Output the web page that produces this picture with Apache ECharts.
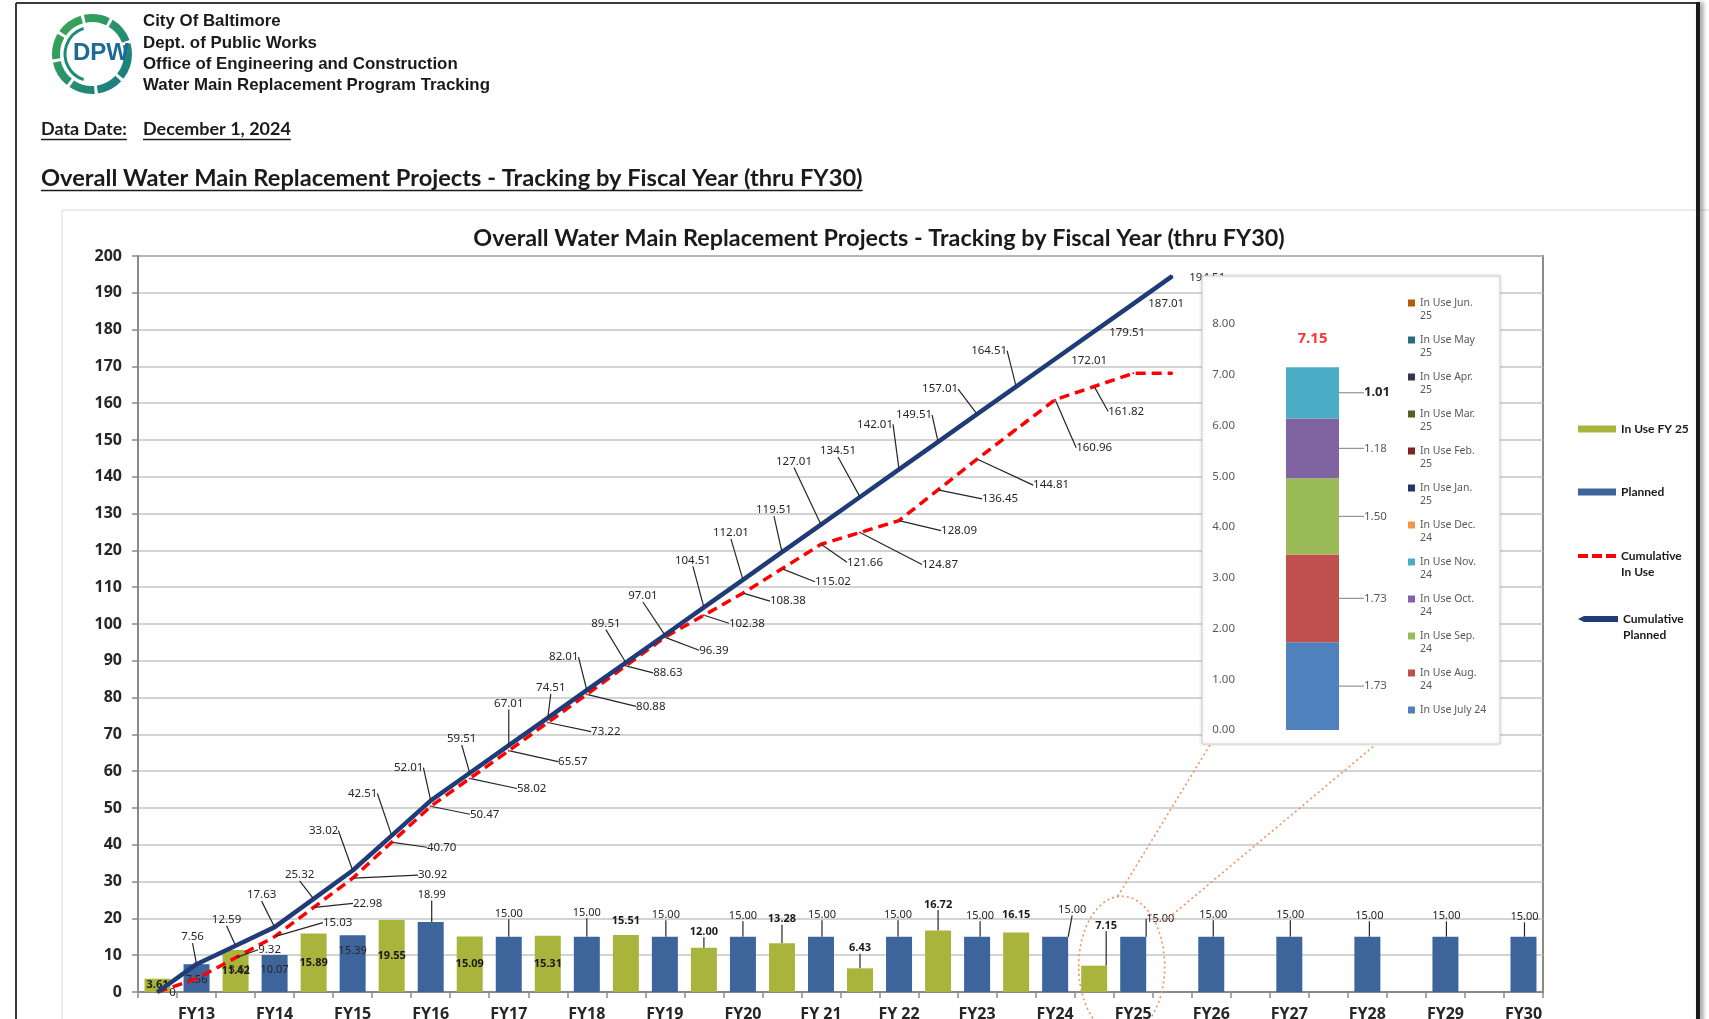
<!DOCTYPE html>
<html><head><meta charset="utf-8">
<script src="https://cdn.jsdelivr.net/npm/echarts@6/dist/echarts.min.js"></script>
<style>html,body{margin:0;padding:0;background:#fff;overflow:hidden}#main{width:1709px;height:1019px;}</style>
</head><body><div id="main"></div>
<script>
// ================= DATA =================
const fiscalYears = ['FY13','FY14','FY15','FY16','FY17','FY18','FY19','FY20','FY 21','FY 22','FY23','FY24','FY25','FY26','FY27','FY28','FY29','FY30'];
// "In Use FY" bars (FY13..FY25)
const inUse = [3.61, 11.42, 15.89, 19.55, 15.09, 15.31, 15.51, 12.00, 13.28, 6.43, 16.72, 16.15, 7.15];
// "Planned" bars (FY13..FY30)
const planned = [7.56, 10.07, 15.39, 18.99, 15.00, 15.00, 15.00, 15.00, 15.00, 15.00, 15.00, 15.00, 15.00, 15.00, 15.00, 15.00, 15.00, 15.00];
// cumulative lines, one point per bar slot (two slots per FY)
const cumPlanned = [0, 7.56, 12.59, 17.63, 25.32, 33.02, 42.51, 52.01, 59.51, 67.01, 74.51, 82.01, 89.51, 97.01, 104.51, 112.01, 119.51, 127.01, 134.51, 142.01, 149.51, 157.01, 164.51, 172.01, 179.51, 187.01, 194.51];
const cumInUse = [0, 3.61, 9.32, 15.03, 22.98, 30.92, 40.70, 50.47, 58.02, 65.57, 73.22, 80.88, 88.63, 96.39, 102.38, 108.38, 115.02, 121.66, 124.87, 128.09, 136.45, 144.81, 152.89, 160.96, 164.54, 168.11, 168.11];
const cumInUseLabels = ['0','3.61','9.32','15.03','22.98','30.92','40.70','50.47','58.02','65.57','73.22','80.88','88.63','96.39','102.38','108.38','115.02','121.66','124.87','128.09','136.45','144.81','','160.96','161.82','',''];
// FY25 monthly breakdown (inset)
const insetMonths = ['In Use July 24','In Use Aug. 24','In Use Sep. 24','In Use Oct. 24','In Use Nov. 24','In Use Dec. 24','In Use Jan. 25','In Use Feb. 25','In Use Mar. 25','In Use Apr. 25','In Use May 25','In Use Jun. 25'];
const insetValues = [1.73, 1.73, 1.50, 1.18, 1.01, null, null, null, null, null, null, null];

// ================= STYLE =================
const GREEN = '#A9B43C', BLUE = '#3E659B', NAVY = '#1F3C78', RED = '#FF0000';
const insetColors = ['#4F81BD','#C0504D','#9BBB59','#8064A2','#4BACC6','#F79646','#1F3864','#7B2421','#4F6228','#3F3151','#256D7B','#B35A0C'];
// label offsets: [dx, dy from bar top (or null = centered inside), leader line]
const inUseBarLbl = [null,null,null,null,null,null,[0,-14,0],[0,-16,1],[0,-24,1],[0,-20,1],[0,-26,1],[0,-18,0],[12,-40,1]];
const plannedBarLbl = [[0,16,0],[0,15,0],[0,15,0],[1,-27,1],[0,-23,1],[0,-24,1],[1,-22,1],[0,-21,1],[1,-22,1],[-1,-22,1],[3,-21,1],[17,-27,1],[27,-18,1],[2,-22,1],[1,-22,1],[2,-21,1],[1,-21,1],[1,-20,1]];
// line label offsets relative to point: [dx, dy, leader]
const plannedLineLbl = [null,[-4,-27,1],[-9,-26,1],[-13,-32,1],[-14,-24,1],[-29,-40,1],[-29,-42,1],[-22,-33,1],[-8,-34,1],[0,-42,1],[3,-30,1],[-23,-33,1],[-20,-39,1],[-22,-39,1],[-11,-47,1],[-12,-47,1],[-8,-42,1],[-27,-63,1],[-22,-46,1],[-24,-45,1],[-24,-27,1],[-37,-25,1],[-27,-36,1],[34,2,0],[33,1,0],[33,0,0],[35,2,0]];
const inUseLineLbl = [[15,1,0],[43,-9,0],[34,-8,1],[63,-14,1],[54,-4,1],[80,-3,1],[50,5,1],[54,8,1],[62,10,1],[64,11,1],[58,9,1],[64,12,1],[42,7,1],[49,13,1],[43,8,1],[45,8,1],[51,13,1],[44,18,1],[80,32,1],[60,10,1],[62,9,1],[74,26,1],null,[39,48,1],[32,25,1],null,null];

// ================= BUILD =================
const slots = [];
fiscalYears.forEach(fy => { slots.push(''); slots.push(fy); });

const inUseBarData = slots.map((s, i) => {
  if (i % 2 === 1) return '-';
  const k = i / 2;
  if (k >= inUse.length) return '-';
  const o = inUseBarLbl[k];
  return { value: inUse[k], labelLine: { show: !!(o && o[2]) } };
});
const plannedBarData = slots.map((s, i) => {
  if (i % 2 === 0) return '-';
  const k = (i - 1) / 2;
  const o = plannedBarLbl[k];
  return { value: planned[k], labelLine: { show: !!(o && o[2]) } };
});
const plannedLineData = cumPlanned.map((v, i) => ({
  value: v, label: { show: !!plannedLineLbl[i] }, labelLine: { show: !!(plannedLineLbl[i] && plannedLineLbl[i][2]) }
}));
const inUseLineData = cumInUse.map((v, i) => ({
  value: v, label: { show: cumInUseLabels[i] !== '' }, labelLine: { show: !!(inUseLineLbl[i] && inUseLineLbl[i][2]) }
}));
const insetTotal = insetValues.reduce((a, b) => a + (b || 0), 0);

function barLayout(offs) {
  return function (p) {
    const k = Math.floor(p.dataIndex / 2);
    const o = offs[k];
    if (!o) return {};
    return { dx: o[0], dy: o[1] - p.rect.height / 2 };
  };
}
function lineLayout(offs) {
  return function (p) {
    const o = offs[p.dataIndex];
    if (!o) return {};
    return { dx: o[0], dy: o[1] };
  };
}

const leaderStyle = { color: '#262626', width: 1.2 };
const TOPZ = 100;

const legends = [];
[
  ['In Use FY 25', 429, 1, 'rect', 38, 7],
  ['Planned', 492, 1, 'rect', 38, 7],
  ['Cumulative In Use', 556, 2, 'path://M0,0H10V4H0Z M14,0H24V4H14Z M28,0H38V4H28Z', 38, 4],
  ['Cumulative Planned', 619, 2, 'path://M0,3L6,0H40V6H6Z', 40, 6]
].forEach(([name, cy, lines, icon, iw, ih]) => {
  const lh = 16;
  legends.push({
    data: [{ name, icon }], orient: 'vertical', left: 1578, top: lines === 1 ? cy - lh / 2 : cy - 1.5 * lh,
    padding: 0, itemWidth: iw, itemHeight: ih, itemGap: 0, selectedMode: false, z: TOPZ + 1,
    formatter: n => n.indexOf('Cumulative ') === 0 ? '\n' + n.replace('Cumulative ', 'Cumulative\n') : n,
    textStyle: { fontFamily: 'Lato', fontWeight: 'bold', fontSize: 12, color: '#1a1a1a', lineHeight: lh }
  });
});
insetMonths.slice().reverse().forEach((name, r) => {
  const cy = 303 + 37 * r;
  const two = name !== 'In Use July 24';
  const lh = 13;
  legends.push({
    data: [name], orient: 'vertical', left: 1408, top: two ? cy - 1.5 * lh : cy - lh / 2,
    padding: 0, itemWidth: 7, itemHeight: 7, icon: 'rect', selectedMode: false, z: TOPZ + 1,
    formatter: n => two ? '\n' + n.replace(/ (\d\d)$/, '\n$1') : n,
    textStyle: { fontFamily: 'Noto Sans', fontSize: 10.5, color: '#595959', lineHeight: lh }
  });
});

const insetSeries = insetMonths.map((name, i) => ({
  name, type: 'bar', xAxisIndex: 1, yAxisIndex: 1, stack: 'fy25', barWidth: 53, z: TOPZ + 1,
  data: [insetValues[i]], itemStyle: { color: insetColors[i] },
  label: {
    show: insetValues[i] != null, position: 'right', distance: 3,
    formatter: p => Number(p.value).toFixed(2), fontFamily: 'Noto Sans',
    fontSize: i === 4 ? 13 : 11.5, fontWeight: i === 4 ? 'bold' : 'normal', color: i === 4 ? '#262626' : '#595959'
  },
  labelLine: { show: true, lineStyle: { color: '#7f7f7f', width: 1 } },
  labelLayout: { dx: 22 }
}));

const chart = echarts.init(document.getElementById('main'), null, { renderer: 'canvas' });
const option = {
  animation: false,
  backgroundColor: '#fff',
  textStyle: { fontFamily: 'Noto Sans' },
  legend: legends,
  grid: [
    { left: 138, right: 166, top: 256, bottom: 27, show: true, borderColor: '#8a8a8a', borderWidth: 2, outerBoundsMode: 'none', containLabel: false },
    { left: 1245, right: 329, top: 324, bottom: 289, outerBoundsMode: 'none', containLabel: false, z: TOPZ + 1 }
  ],
  xAxis: [
    { type: 'category', gridIndex: 0, data: slots, boundaryGap: true,
      axisLine: { lineStyle: { color: '#8a8a8a', width: 2 } },
      axisTick: { show: true, interval: 0, length: 6, lineStyle: { color: '#8a8a8a', width: 1.5 } },
      axisLabel: { interval: 0, margin: 14, color: '#262626', fontFamily: 'Noto Sans', fontWeight: 'bold', fontSize: 16 },
      splitLine: { show: false } },
    { type: 'category', gridIndex: 1, data: [''], axisLine: { show: false }, axisTick: { show: false }, axisLabel: { show: false }, z: TOPZ + 1 }
  ],
  yAxis: [
    { type: 'value', gridIndex: 0, min: 0, max: 200, interval: 10,
      axisLine: { show: true, lineStyle: { color: '#8a8a8a', width: 2 } },
      axisTick: { show: true, length: 6, lineStyle: { color: '#8a8a8a', width: 1.5 } },
      axisLabel: { margin: 16, color: '#262626', fontFamily: 'Noto Sans', fontWeight: 'bold', fontSize: 16 },
      splitLine: { show: true, lineStyle: { color: '#c4c4c4', width: 1.5 } } },
    { type: 'value', gridIndex: 1, min: 0, max: 8, interval: 1,
      axisLine: { show: false }, axisTick: { show: false }, splitLine: { show: false },
      axisLabel: { formatter: v => v.toFixed(2), color: '#595959', fontFamily: 'Noto Sans', fontSize: 11.5, margin: 10 }, z: TOPZ + 1 }
  ],
  series: [
    { name: 'In Use FY 25', type: 'bar', xAxisIndex: 0, yAxisIndex: 0, barWidth: 26, barGap: '-100%', data: inUseBarData,
      itemStyle: { color: GREEN },
      label: { show: true, position: 'inside', formatter: p => Number(p.value).toFixed(2), fontFamily: 'Noto Sans', fontWeight: 'bold', fontSize: 11, color: '#1a1a1a' },
      labelLine: { show: true, lineStyle: leaderStyle },
      labelLayout: barLayout(inUseBarLbl) },
    { name: 'Planned', type: 'bar', xAxisIndex: 0, yAxisIndex: 0, barWidth: 26, barGap: '-100%', data: plannedBarData,
      itemStyle: { color: BLUE },
      label: { show: true, position: 'inside', formatter: p => Number(p.value).toFixed(2), fontFamily: 'Noto Sans', fontSize: 11, color: '#262626' },
      labelLine: { show: true, lineStyle: leaderStyle },
      labelLayout: barLayout(plannedBarLbl) },
    { name: 'Cumulative In Use', type: 'line', xAxisIndex: 0, yAxisIndex: 0, data: inUseLineData, z: 3,
      symbol: 'circle', symbolSize: 2, showSymbol: true,
      lineStyle: { color: RED, width: 3.5, type: [10, 6] }, itemStyle: { color: RED },
      label: { show: true, position: 'inside', formatter: p => cumInUseLabels[p.dataIndex], fontFamily: 'Noto Sans', fontSize: 11.5, color: '#262626' },
      labelLine: { show: true, lineStyle: leaderStyle },
      labelLayout: lineLayout(inUseLineLbl) },
    { name: 'Cumulative Planned', type: 'line', xAxisIndex: 0, yAxisIndex: 0, data: plannedLineData, z: 4,
      symbol: 'circle', symbolSize: 2, showSymbol: true,
      lineStyle: { color: NAVY, width: 4.5 }, itemStyle: { color: NAVY },
      label: { show: true, position: 'inside', formatter: p => Number(p.value).toFixed(2), fontFamily: 'Noto Sans', fontSize: 11.5, color: '#262626' },
      labelLine: { show: true, lineStyle: leaderStyle },
      labelLayout: lineLayout(plannedLineLbl) },
    ...insetSeries,
    { type: 'scatter', xAxisIndex: 1, yAxisIndex: 1, z: TOPZ + 2, data: [[0, insetTotal]], symbolSize: 1, silent: true,
      itemStyle: { color: 'rgba(0,0,0,0)' },
      label: { show: true, position: 'top', distance: 20, formatter: insetTotal.toFixed(2), color: RED, fontWeight: 'bold', fontSize: 15, fontFamily: 'Noto Sans' } }
  ]
};
chart.setOption(option);

// ================= HEADER / ANNOTATIONS =================
const mctx = document.createElement('canvas').getContext('2d');
function textWidth(t, font) { mctx.font = font; return mctx.measureText(t).width; }
function fit(t, weight, fam, w) { return 100 * w / textWidth(t, weight + ' 100px ' + fam); }

const hdrFam = '"Liberation Sans"';
const hs = fit('Water Main Replacement Program Tracking', 'bold', hdrFam, 347);
const ddFam = 'Lato';
const dds = fit('December 1, 2024', 'bold', ddFam, 148);
const pageTitle = 'Overall Water Main Replacement Projects - Tracking by Fiscal Year (thru FY30)';
const pts = fit(pageTitle, 'bold', ddFam, 822);
const cts = fit(pageTitle, 'bold', ddFam, 812);

const ddFont = `bold ${dds}px ${ddFam}`;
const w1 = textWidth('Data Date:', ddFont), w2 = textWidth('December 1, 2024', ddFont);
const ptFont = `bold ${pts}px ${ddFam}`;
const w3 = textWidth(pageTitle, ptFont);

const headerLines = ['City Of Baltimore', 'Dept. of Public Works', 'Office of Engineering and Construction', 'Water Main Replacement Program Tracking'];
const headerY = [21.5, 43, 64, 85.5];

const p24 = chart.convertToPixel({ xAxisIndex: 0, yAxisIndex: 0 }, [24, 7]);
const p25 = chart.convertToPixel({ xAxisIndex: 0, yAxisIndex: 0 }, [25, 7]);
const ecx = (p24[0] + p25[0]) / 2 + 8, ecy = p24[1], erx = 43, ery = 70;
const ORANGE = '#F0905A';

const graphics = [
  // page frame
  { type: 'rect', z: 0, shape: { x: 62, y: 210, width: 1700, height: 900 }, style: { fill: 'none', stroke: '#d9d9d9', lineWidth: 1 } },
  { type: 'line', z: 200, shape: { x1: 16, y1: 3, x2: 1698, y2: 3 }, style: { stroke: '#3a3a3a', lineWidth: 2 } },
  { type: 'line', z: 200, shape: { x1: 16, y1: 3, x2: 16, y2: 1019 }, style: { stroke: '#3a3a3a', lineWidth: 2 } },
  { type: 'rect', z: 200, shape: { x: 1696, y: 2, width: 4, height: 1020 }, style: { fill: '#1a1a1a', shadowBlur: 4, shadowColor: 'rgba(0,0,0,0.45)', shadowOffsetX: 3 } },
  // logo
  { type: 'circle', shape: { cx: 92, cy: 54, r: 36 }, style: { fill: 'none', lineWidth: 8, lineDash: [24, 3],
      stroke: { type: 'linear', x: 0, y: 0, x2: 1, y2: 1, colorStops: [{ offset: 0, color: '#3DAA4F' }, { offset: 1, color: '#147889' }] } } },
  { type: 'arc', shape: { cx: 92, cy: 54, r: 27, startAngle: Math.PI * 0.6, endAngle: Math.PI * 1.4 }, style: { fill: 'none', stroke: '#1E8C78', lineWidth: 3 } },
  { type: 'text', x: 101, y: 53, style: { text: 'DPW', font: 'bold 24px "Liberation Sans"', fill: '#1D6A95', align: 'center', verticalAlign: 'middle' } },
  // header text
  ...headerLines.map((t, i) => ({ type: 'text', x: 143, y: headerY[i], style: { text: t, font: `bold ${hs}px ${hdrFam}`, fill: '#1a1a1a', verticalAlign: 'middle' } })),
  { type: 'text', x: 41, y: 129.6, style: { text: 'Data Date:', font: ddFont, fill: '#1a1a1a', verticalAlign: 'middle' } },
  { type: 'text', x: 143, y: 129.6, style: { text: 'December 1, 2024', font: ddFont, fill: '#1a1a1a', verticalAlign: 'middle' } },
  { type: 'line', shape: { x1: 41, y1: 139.5, x2: 41 + w1, y2: 139.5 }, style: { stroke: '#1a1a1a', lineWidth: 1.5 } },
  { type: 'line', shape: { x1: 143, y1: 139.5, x2: 143 + w2, y2: 139.5 }, style: { stroke: '#1a1a1a', lineWidth: 1.5 } },
  { type: 'text', x: 41, y: 178.7, style: { text: pageTitle, font: ptFont, fill: '#1a1a1a', verticalAlign: 'middle' } },
  { type: 'line', shape: { x1: 41, y1: 190.5, x2: 41 + w3, y2: 190.5 }, style: { stroke: '#1a1a1a', lineWidth: 1.5 } },
  // chart title
  { type: 'text', x: 879, y: 238, style: { text: pageTitle, font: `bold ${cts}px ${ddFam}`, fill: '#1a1a1a', align: 'center', verticalAlign: 'middle' } },
  // inset box
  { type: 'rect', z: TOPZ, shape: { x: 1202, y: 276, width: 298, height: 468 }, style: { fill: '#fff', stroke: '#d3d3d3', lineWidth: 1, shadowBlur: 3, shadowColor: 'rgba(0,0,0,0.15)' } },
  // FY25 highlight
  { type: 'ellipse', z: TOPZ + 5, shape: { cx: ecx, cy: ecy, rx: erx, ry: ery }, style: { fill: 'none', stroke: ORANGE, lineWidth: 1.6, lineDash: [2, 3] } },
  { type: 'line', z: TOPZ + 5, shape: { x1: ecx - 4, y1: ecy - ery, x2: 1210, y2: 745 }, style: { stroke: ORANGE, lineWidth: 1.6, lineDash: [2, 3] } },
  { type: 'line', z: TOPZ + 5, shape: { x1: ecx + erx, y1: ecy - 45, x2: 1375, y2: 745 }, style: { stroke: ORANGE, lineWidth: 1.6, lineDash: [2, 3] } }
];
chart.setOption({ graphic: graphics });
</script>
</body></html>
